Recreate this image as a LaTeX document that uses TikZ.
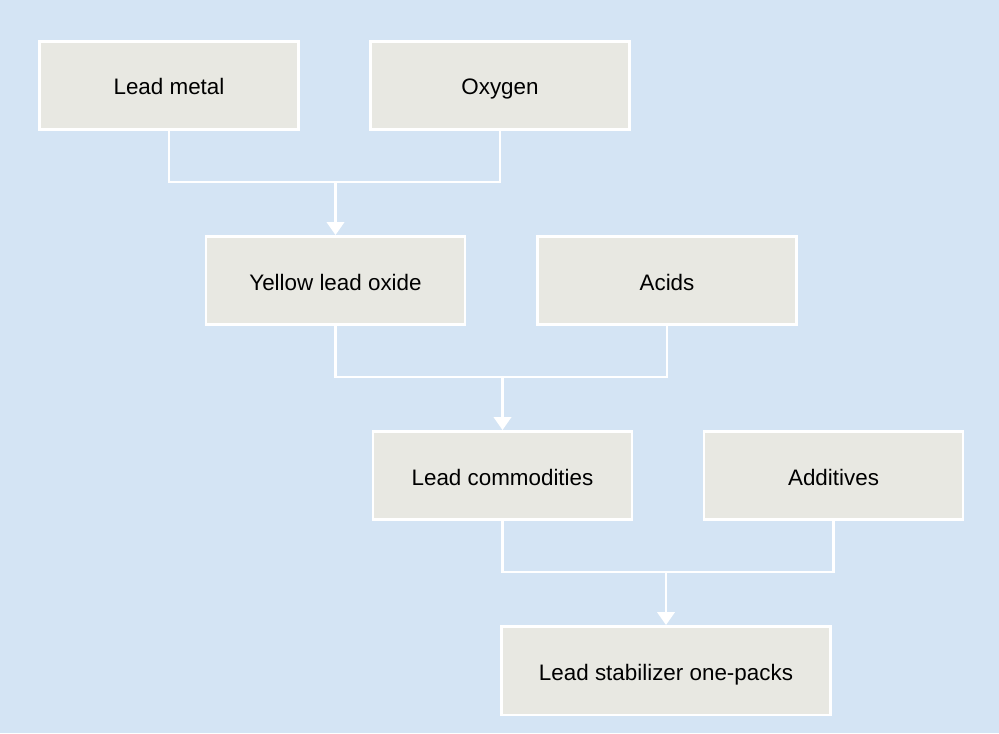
\documentclass[tikz,border=0pt]{standalone}
\usepackage{fontspec}
\setmainfont{Liberation Sans}
\usetikzlibrary{arrows.meta}
\definecolor{panelblue}{HTML}{D4E4F4}
\definecolor{boxgrey}{HTML}{E8E8E2}

\begin{document}
\begin{tikzpicture}[
  x=0.02cm,
  y=-0.02cm,
  every node/.style={font=\fontsize{12.75pt}{15pt}\selectfont, black},
  stage/.style={draw=white, fill=boxgrey, line width=0.05cm,
    minimum width=5.19cm, minimum height=1.77cm, inner sep=0pt,
    text height=0.42cm, text depth=0.04cm},
  wide/.style={stage, minimum width=6.59cm},
  link/.style={white, line width=0.05cm},
  flow/.style={white, line width=0.05cm,
    -{Triangle[width=0.35cm, length=0.26cm]}}
]
  % ---- panel -----------------------------------------------------------
  \fill[panelblue] (0,0) rectangle (999,733);
  \useasboundingbox (0,0) rectangle (999,733);

  % ---- the boxes -------------------------------------------------------
  \node[stage] (lead)      at (169,85.5)    {Lead metal};
  \node[stage] (oxygen)    at (500,85.5)    {Oxygen};
  \node[stage] (oxide)     at (335.5,280.5) {Yellow lead oxide};
  \node[stage] (acids)     at (667,280.5)   {Acids};
  \node[stage] (commod)    at (502.5,475.5) {Lead commodities};
  \node[stage] (additives) at (833.5,475.5) {Additives};
  \node[wide]  (onepack)   at (666,670.5)   {Lead stabilizer one-packs};

  % ---- where the pairs meet --------------------------------------------
  \coordinate (meetA) at (335.5,182);
  \coordinate (meetB) at (502.5,377);
  \coordinate (meetC) at (666,572);

  % ---- lead metal + oxygen ---------------------------------------------
  \draw[link] (lead.south) |- (meetA) -| (oxygen.south);
  \draw[flow] (meetA) -- (oxide.north);

  % ---- oxide + acids ---------------------------------------------------
  \draw[link] (oxide.south) |- (meetB) -| (acids.south);
  \draw[flow] (meetB) -- (commod.north);

  % ---- commodities + additives -----------------------------------------
  \draw[link] (commod.south) |- (meetC) -| (additives.south);
  \draw[flow] (meetC) -- (onepack.north);
\end{tikzpicture}
\end{document}
